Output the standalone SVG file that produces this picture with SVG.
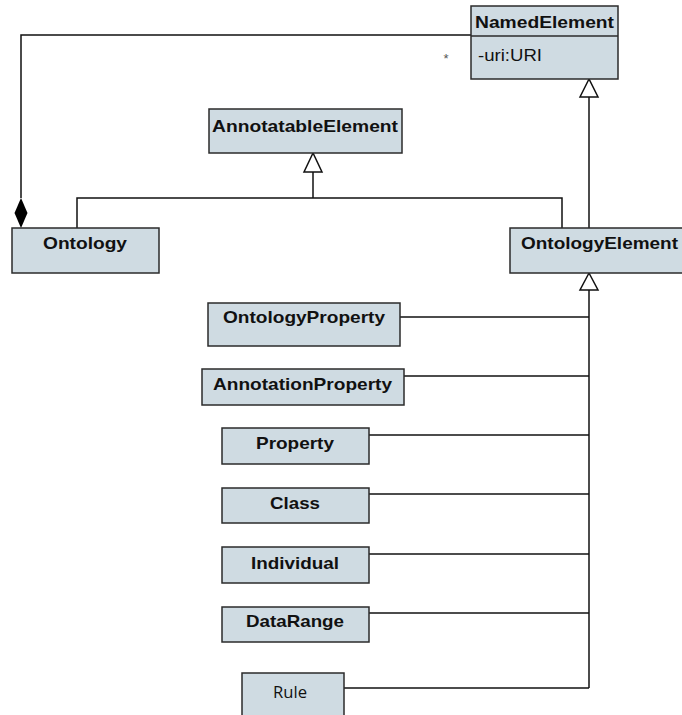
<svg xmlns="http://www.w3.org/2000/svg" width="682" height="715" viewBox="0 0 682 715">
<style>
.box{fill:#cfdbe2;stroke:#2b2b2b;stroke-width:1.5}
.t{font-family:"Liberation Sans",Arial,sans-serif;font-size:17px;font-weight:bold;fill:#111}
.r{font-family:"Liberation Sans",Arial,sans-serif;font-size:17px;fill:#111}
.c{fill:none;stroke:#111;stroke-width:1.5}
.h{fill:#fff;stroke:#111;stroke-width:1.5}
</style>
<rect width="682" height="715" fill="#fff"/>
<g id="connectors">
<polyline class="c" points="471,35 21,35 21,198"/>
<polygon points="21,198 14.5,213 21,228 27.5,213" fill="#000"/>
<text x="446" y="63" font-family="Liberation Sans,Arial,sans-serif" font-size="13" fill="#555" text-anchor="middle">*</text>
<line class="c" x1="589" y1="97" x2="589" y2="228"/>
<polygon class="h" points="589,79 580,97 598,97"/>
<line class="c" x1="313" y1="172" x2="313" y2="198"/>
<polyline class="c" points="77,228 77,198 562,198 562,228"/>
<polygon class="h" points="313,153 304,172 322,172"/>
<line class="c" x1="589" y1="290" x2="589" y2="688"/>
<polygon class="h" points="589,273 580,290 598,290"/>
<line class="c" x1="400" y1="317" x2="589" y2="317"/>
<line class="c" x1="404" y1="376" x2="589" y2="376"/>
<line class="c" x1="369" y1="435" x2="589" y2="435"/>
<line class="c" x1="369" y1="494" x2="589" y2="494"/>
<line class="c" x1="369" y1="554" x2="589" y2="554"/>
<line class="c" x1="369" y1="613" x2="589" y2="613"/>
<line class="c" x1="344" y1="688" x2="589" y2="688"/>
</g>
<g id="NamedElement">
<rect class="box" x="471" y="6" width="147" height="73"/>
<line x1="471" y1="36" x2="618" y2="36" stroke="#2b2b2b" stroke-width="1.5"/>
<text class="t" x="475" y="28" textLength="139" lengthAdjust="spacingAndGlyphs">NamedElement</text>
<text class="r" x="478" y="61" textLength="64" lengthAdjust="spacingAndGlyphs">-uri:URI</text>
</g>
<g id="AnnotatableElement">
<rect class="box" x="209" y="109" width="193" height="44"/>
<text class="t" x="212" y="132" textLength="186" lengthAdjust="spacingAndGlyphs">AnnotatableElement</text>
</g>
<g id="Ontology">
<rect class="box" x="12" y="228" width="147" height="45"/>
<text class="t" x="43" y="249" textLength="84" lengthAdjust="spacingAndGlyphs">Ontology</text>
</g>
<g id="OntologyElement">
<rect class="box" x="510" y="228" width="180" height="45"/>
<text class="t" x="521" y="249" textLength="157" lengthAdjust="spacingAndGlyphs">OntologyElement</text>
</g>
<g id="OntologyProperty">
<rect class="box" x="208" y="303" width="192" height="43"/>
<text class="t" x="223" y="323" textLength="162" lengthAdjust="spacingAndGlyphs">OntologyProperty</text>
</g>
<g id="AnnotationProperty">
<rect class="box" x="202" y="369" width="202" height="36"/>
<text class="t" x="213" y="390" textLength="179" lengthAdjust="spacingAndGlyphs">AnnotationProperty</text>
</g>
<g id="Property">
<rect class="box" x="222" y="428" width="147" height="36"/>
<text class="t" x="256" y="449" textLength="78" lengthAdjust="spacingAndGlyphs">Property</text>
</g>
<g id="Class">
<rect class="box" x="222" y="488" width="147" height="35"/>
<text class="t" x="270" y="509" textLength="50" lengthAdjust="spacingAndGlyphs">Class</text>
</g>
<g id="Individual">
<rect class="box" x="222" y="547" width="147" height="36"/>
<text class="t" x="251" y="569" textLength="88" lengthAdjust="spacingAndGlyphs">Individual</text>
</g>
<g id="DataRange">
<rect class="box" x="222" y="607" width="147" height="35"/>
<text class="t" x="246" y="627" textLength="98" lengthAdjust="spacingAndGlyphs">DataRange</text>
</g>
<g id="Rule">
<rect class="box" x="242" y="673" width="102" height="50"/>
<text x="273" y="698" font-family="'Open Sans',sans-serif" font-size="16" fill="#111" textLength="34" lengthAdjust="spacingAndGlyphs">Rule</text>
</g>
</svg>
